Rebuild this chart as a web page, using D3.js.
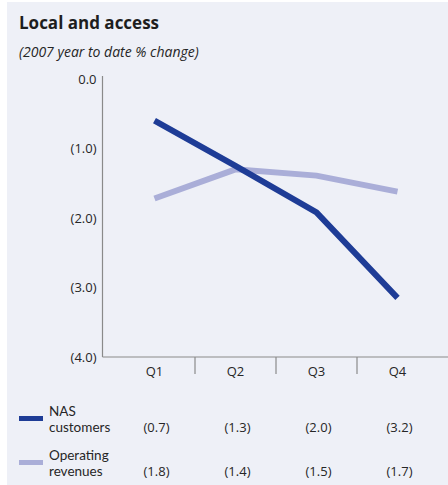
<!DOCTYPE html>
<html>
<head>
<meta charset="utf-8">
<script src="https://cdn.jsdelivr.net/npm/d3@7"></script>
<style>
  body { margin: 0; background: #fff; }
  svg { display: block; font-family: "Open Sans", "Noto Sans", sans-serif; }
  .leg-name { font-family: Lato, "Open Sans", sans-serif; }
</style>
</head>
<body>
<svg id="chart" width="448" height="485"></svg>
<script>
// ── Data ─────────────────────────────────────────────────────────────────────
const quarters   = ["Q1", "Q2", "Q3", "Q4"];
const nasValues  = [-0.6, -1.25, -1.92, -3.15];
const opValues   = [-1.72, -1.3, -1.39, -1.62];
const nasLabels  = ["(0.7)", "(1.3)", "(2.0)", "(3.2)"];
const opLabels   = ["(1.8)", "(1.4)", "(1.5)", "(1.7)"];
const yTicks     = [0, -1, -2, -3, -4];
const yTickText  = ["0.0", "(1.0)", "(2.0)", "(3.0)", "(4.0)"];

const DARK  = "#1e3c96";
const LIGHT = "#aaaed8";
const FS    = "13px";
const INK   = "#262626";

const svg = d3.select("#chart");

// panel background
svg.append("rect").attr("x", 7).attr("y", 2).attr("width", 441).attr("height", 483)
  .attr("fill", "#eef0f7");

svg.append("text").attr("x", 19).attr("y", 29)
  .attr("font-size", "17px").attr("font-weight", "bold").attr("fill", "#1e1e1e")
  .text("Local and access");
svg.append("text").attr("x", 19).attr("y", 57)
  .attr("font-size", "14px").attr("font-style", "italic").attr("fill", INK)
  .text("(2007 year to date % change)");

// ── Scales ──────────────────────────────────────────────────────────────────
const x = d3.scaleBand().domain(quarters).range([114, 438]);
const y = d3.scaleLinear().domain([0, -4]).range([79, 357]);
const AX = 102.5;

// y axis
svg.append("line").attr("x1", AX).attr("x2", AX).attr("y1", 76).attr("y2", y(-4))
  .attr("stroke", "#8a8a8a").attr("stroke-width", 1.2);
svg.selectAll("text.ytick").data(yTicks).join("text")
  .attr("class", "ytick")
  .attr("x", AX - 6).attr("y", d => y(d)).attr("dy", "0.35em")
  .attr("text-anchor", "end").attr("font-size", FS).attr("fill", INK)
  .text((d, i) => yTickText[i]);

// x axis
svg.append("line").attr("x1", AX).attr("x2", 448).attr("y1", y(-4)).attr("y2", y(-4))
  .attr("stroke", "#8a8a8a").attr("stroke-width", 1.2);
svg.selectAll("line.xsep").data(quarters.slice(1)).join("line")
  .attr("class", "xsep")
  .attr("x1", d => x(d)).attr("x2", d => x(d))
  .attr("y1", y(-4)).attr("y2", y(-4) + 17)
  .attr("stroke", "#8a8a8a").attr("stroke-width", 1.2);
svg.selectAll("text.xtick").data(quarters).join("text")
  .attr("class", "xtick")
  .attr("x", d => x(d) + x.bandwidth() / 2).attr("y", 376)
  .attr("text-anchor", "middle").attr("font-size", FS).attr("fill", INK)
  .text(d => d);

// ── Lines ───────────────────────────────────────────────────────────────────
const line = d3.line()
  .x((d, i) => x(quarters[i]) + x.bandwidth() / 2)
  .y(d => y(d));

svg.append("path").datum(opValues).attr("d", line)
  .attr("fill", "none").attr("stroke", LIGHT).attr("stroke-width", 6);
svg.append("path").datum(nasValues).attr("d", line)
  .attr("fill", "none").attr("stroke", DARK).attr("stroke-width", 6);

// ── Legend table ────────────────────────────────────────────────────────────
const rows = [
  { color: DARK,  lines: ["NAS", "customers"],      labels: nasLabels, y: 432 },
  { color: LIGHT, lines: ["Operating", "revenues"], labels: opLabels,  y: 476 }
];
rows.forEach(r => {
  svg.append("rect").attr("x", 19).attr("y", r.y - 16).attr("width", 24).attr("height", 5)
    .attr("fill", r.color);
  r.lines.forEach((t, i) => {
    svg.append("text").attr("class", "leg-name")
      .attr("x", 49).attr("y", r.y - 16 + i * 16)
      .attr("font-size", "13.5px").attr("fill", INK).text(t);
  });
  svg.selectAll(null).data(r.labels).join("text")
    .attr("x", (d, i) => x(quarters[i]) + x.bandwidth() / 2 + 2).attr("y", r.y)
    .attr("text-anchor", "middle").attr("font-size", FS).attr("fill", INK)
    .text(d => d);
});
</script>
</body>
</html>
